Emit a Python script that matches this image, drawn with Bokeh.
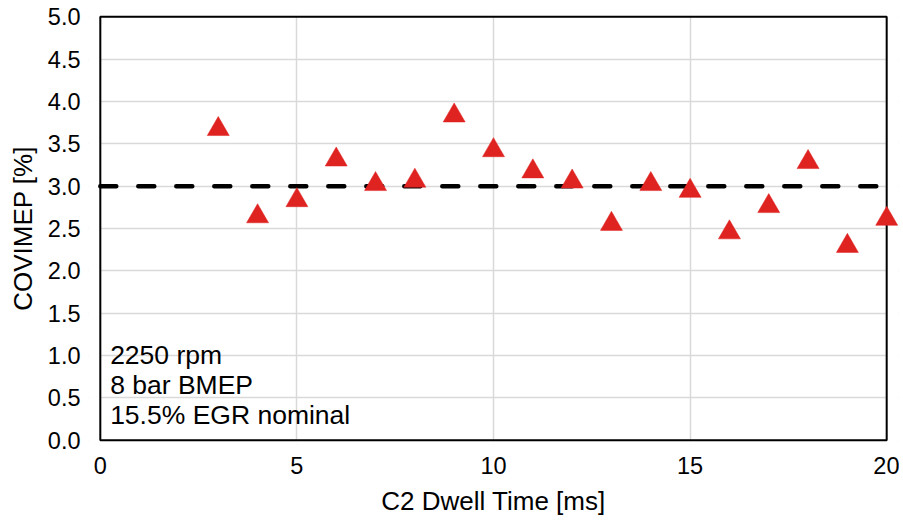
from bokeh.plotting import figure
from bokeh.models import Range1d, FixedTicker, BoxAnnotation, Label, NumeralTickFormatter
from bokeh.embed import file_html
from bokeh.resources import INLINE

# ---- data ----
dwell_ms = [3, 4, 5, 6, 7, 8, 9, 10, 11, 12, 13, 14, 15, 16, 17, 18, 19, 20]
covimep = [3.71, 2.68, 2.87, 3.35, 3.06, 3.10, 3.87, 3.46, 3.21, 3.09,
           2.59, 3.06, 2.98, 2.49, 2.80, 3.32, 2.33, 2.65]
nominal_x = [0, 20]
nominal_y = [3.0, 3.0]
x_ticks = [0, 5, 10, 15, 20]
y_ticks = [0.0, 0.5, 1.0, 1.5, 2.0, 2.5, 3.0, 3.5, 4.0, 4.5, 5.0]
notes = ["2250 rpm", "8 bar BMEP", "15.5% EGR nominal"]
x_label = "C2 Dwell Time [ms]"
y_label = "COVIMEP [%]"

# ---- layout / style ----
FONT = "Liberation Sans"
X0, X1, Y0, Y1 = 0, 20, 0.0, 5.0
PAD_X, PAD_Y = 0.3, 0.05
FW, FH = 810, 432
RED = "#DF2321"
GRID = "#D9D9D9"
MARKER = 22
NOTE_X, NOTE_Y, NOTE_STEP = 0.25, 1.01, 0.357
ppu_y = FH / (Y1 - Y0 + 2 * PAD_Y)
shift = (MARKER / 2) * (3 ** 0.5) / 6 / ppu_y  # centre triangle bbox on the point

p = figure(frame_width=FW, frame_height=FH,
           x_range=Range1d(X0 - PAD_X, X1 + PAD_X),
           y_range=Range1d(Y0 - PAD_Y, Y1 + PAD_Y),
           min_border_left=88, min_border_right=1, min_border_top=12, min_border_bottom=0,
           output_backend="svg", toolbar_location=None)
p.extra_y_ranges = {"mk": Range1d(Y0 - PAD_Y + shift, Y1 + PAD_Y + shift)}
p.outline_line_color = None
p.background_fill_color = "white"
p.border_fill_color = "white"

for ax in (p.xaxis[0], p.yaxis[0]):
    ax.axis_line_color = None
    ax.major_tick_line_color = None
    ax.minor_tick_line_color = None
    ax.major_tick_out = 0
    ax.major_tick_in = 0
    ax.major_label_text_font = FONT
    ax.major_label_text_font_size = "23.5px"
    ax.major_label_text_color = "black"
    ax.axis_label_text_font = FONT
    ax.axis_label_text_font_size = "26px"
    ax.axis_label_text_font_style = "normal"
    ax.axis_label_text_color = "black"

p.xaxis.ticker = FixedTicker(ticks=x_ticks)
p.yaxis.ticker = FixedTicker(ticks=y_ticks)
p.yaxis.formatter = NumeralTickFormatter(format="0.0")
p.xaxis.axis_label = x_label
p.yaxis.axis_label = y_label
p.xaxis.major_label_standoff = 12
p.xaxis.axis_label_standoff = 9
p.yaxis.major_label_standoff = 8
p.yaxis.axis_label_standoff = 7

p.xgrid.ticker = FixedTicker(ticks=x_ticks)
p.ygrid.ticker = FixedTicker(ticks=y_ticks)
for g in (p.xgrid[0], p.ygrid[0]):
    g.grid_line_color = GRID
    g.grid_line_width = 1.5
    g.level = "image"

# white masks outside the plotting box, then the black border
for kw in (dict(right=X0), dict(left=X1), dict(top=Y0), dict(bottom=Y1)):
    p.add_layout(BoxAnnotation(fill_color="white", fill_alpha=1.0, line_color=None,
                               level="underlay", **kw))
p.add_layout(BoxAnnotation(left=X0, right=X1, bottom=Y0, top=Y1, fill_color=None,
                           fill_alpha=0, line_color="black", line_alpha=1.0,
                           line_width=2, level="underlay"))

p.line(nominal_x, nominal_y, line_color="black", line_width=4.5,
       line_dash="16 22", line_cap="round")
p.scatter(dwell_ms, covimep, marker="triangle", size=MARKER,
          fill_color=RED, line_color=RED, line_width=0.5, y_range_name="mk")

for i, t in enumerate(notes):
    p.add_layout(Label(x=NOTE_X, y=NOTE_Y - NOTE_STEP * i, text=t, text_font=FONT,
                       text_font_size="26.5px", text_color="black",
                       text_baseline="alphabetic", text_align="left"))

open("out.html", "w").write(file_html(p, INLINE))
